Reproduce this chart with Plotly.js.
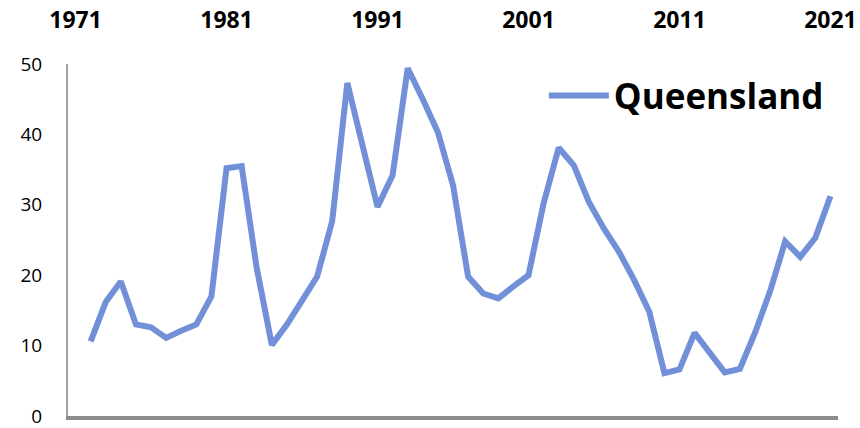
<!DOCTYPE html>
<html>
<head>
<meta charset="utf-8">
<script src="https://cdn.plot.ly/plotly-3.0.1.min.js"></script>
<style>html,body{margin:0;padding:0;background:#fff;}#chart{width:860px;height:428px;}</style>
</head>
<body>
<div id="chart"></div>
<script>
const seriesName = "Queensland";
const years = [1972,1973,1974,1975,1976,1977,1978,1979,1980,1981,1982,1983,1984,1985,1986,1987,1988,1989,1990,1991,1992,1993,1994,1995,1996,1997,1998,1999,2000,2001,2002,2003,2004,2005,2006,2007,2008,2009,2010,2011,2012,2013,2014,2015,2016,2017,2018,2019,2020,2021];
const values = [10.6,16.2,19.1,13.0,12.6,11.1,12.1,13.0,17.0,35.2,35.5,21.0,10.1,13.0,16.4,19.8,27.7,47.3,38.5,29.7,34.2,49.4,45.0,40.3,32.8,19.8,17.4,16.7,18.4,20.0,30.2,38.1,35.6,30.4,26.6,23.3,19.3,14.8,6.1,6.6,11.8,8.9,6.2,6.7,11.8,17.7,24.8,22.6,25.3,31.2];
const tickYears = [1971,1981,1991,2001,2011,2021];
const tickLabels = ["1971","1981","1991","2001","2011","2021"];
const yTicks = [0,10,20,30,40,50];

const xr = [1970.5, 2021.5];
const trace = {
  x: years, y: values, name: seriesName, type: 'scatter', mode: 'lines',
  line: {color: '#7190D7', width: 6},
  showlegend: true
};
const layout = {
  width: 860, height: 428,
  margin: {l: 68, r: 22, t: 64, b: 12},
  paper_bgcolor: '#fff', plot_bgcolor: '#fff',
  font: {family: 'Open Sans, sans-serif', color: '#000'},
  xaxis: {
    range: xr, side: 'top', showgrid: false, zeroline: false, showline: false,
    tickmode: 'array', tickvals: tickYears, ticktext: tickLabels,
    ticks: '', ticklabelstandoff: 30,
    tickfont: {family: 'Open Sans, sans-serif', size: 23, color: '#000', weight: 'bold'}
  },
  xaxis2: {
    range: xr, overlaying: 'x', side: 'bottom', showgrid: false, zeroline: false,
    showline: true, linecolor: '#8c8c8c', linewidth: 4, showticklabels: false, ticks: ''
  },
  yaxis: {
    range: [0, 50], showgrid: false, zeroline: false, showline: true,
    linecolor: '#a0a0a0', linewidth: 2,
    tickmode: 'array', tickvals: yTicks, ticks: '', ticklabelstandoff: 20,
    ticklabeloverflow: 'allow',
    tickfont: {family: 'Open Sans, sans-serif', size: 19, color: '#000'}
  },
  legend: {
    x: 0.618, y: 0.91, xanchor: 'left', yanchor: 'middle',
    bgcolor: 'rgba(0,0,0,0)', borderwidth: 0,
    itemwidth: 60,
    font: {family: 'Open Sans, sans-serif', size: 35, color: '#000', weight: 'bold'}
  }
};
const axisTrace = {x: [xr[0]], y: [0], xaxis: 'x2', yaxis: 'y', mode: 'markers', marker: {opacity: 0}, showlegend: false, hoverinfo: 'skip'};
Plotly.newPlot('chart', [axisTrace, trace], layout, {displayModeBar: false, staticPlot: true});
</script>
</body>
</html>
